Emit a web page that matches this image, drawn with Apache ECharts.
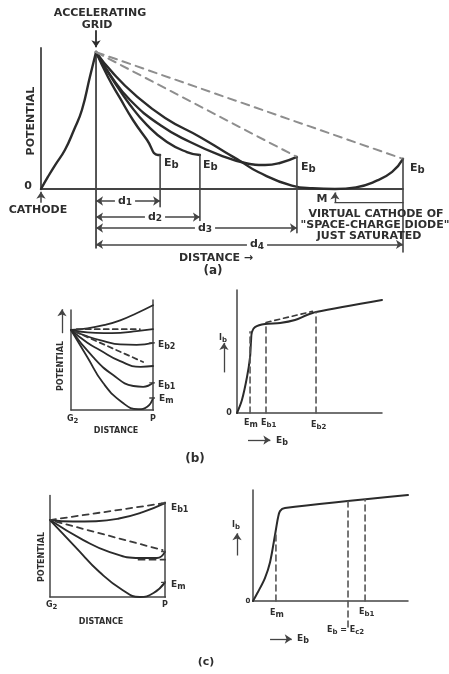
<!DOCTYPE html>
<html><head><meta charset="utf-8">
<script src="https://cdn.jsdelivr.net/npm/echarts@6/dist/echarts.min.js"></script>
<style>html,body{margin:0;padding:0;background:#fff}#c{width:449px;height:674px}</style>
</head><body><div id="c"></div>
<script>
// ---------- Panel (a): distance (cathode = 0, d4 = 10) vs potential (grid = 100)
const aGridDist = 1.52;
const aGridPot = 100;
const aCathodeRise = [[0,0],[0.19,8.8],[0.39,17.5],[0.66,28.5],[0.91,43.1],[1.13,57.7],[1.35,81.8],[1.52,100]];
const aCurveD1 = [[1.52,100],[1.85,81.8],[2.18,66.5],[2.54,50.4],[2.93,35.8],[3.23,24.8],[3.29,24.8]];
const aCurveD2 = [[1.52,100],[1.99,79.6],[2.46,61.4],[2.93,46.7],[3.48,34.3],[4.03,27.0],[4.39,24.8]];
const aCurveD3 = [[1.52,100],[1.91,83.3],[2.46,65.0],[3.29,46.7],[4.12,34.3],[4.94,24.8],[5.64,19.0],[6.19,17.5],[6.60,19.0],[7.07,23.4]];
const aCurveD4 = [[1.52,100],[1.96,85.5],[2.60,68.7],[3.43,51.9],[4.39,38.0],[5.08,27.0],[5.50,20.5],[6.0,12.4],[6.93,2.5],[7.5,0.5],[8.12,0],[8.7,1.2],[9.23,5.5],[9.7,12.5],[10,22]];
const aElectrodeDist = [3.29, 4.39, 7.07, 10];
const aElectrodeEb = [24.8, 24.8, 23.4, 22];
const aDimY = [-8.8, -20.5, -28.5, -40.5];
const aDimNames = ['1','2','3','4'];
const aVirtualCathode = 8.12;

// ---------- Panel (b) left: distance G2 (0) -> P (1), potential (Ec2 = 100)
const bTop = [[0,100],[0.2,102],[0.4,106],[0.6,112],[0.8,121],[1,131]];
const bFlat = [[0,100],[0.2,97],[0.4,96],[0.6,96.5],[0.8,98.5],[1,101]];
const bEb2 = [[0,100],[0.2,92],[0.4,86],[0.6,82],[0.8,81.5],[1,84]];
const bMid = [[0,100],[0.2,84],[0.35,75],[0.6,61],[0.85,54],[1,55]];
const bEb1 = [[0,100],[0.27,66],[0.51,44],[0.76,30],[0.88,29],[1,34]];
const bEm = [[0,100],[0.2,66],[0.39,34],[0.63,9],[0.82,1],[0.93,4],[1,15]];
const bDashed = [[[0.07,101],[0.84,101]],[[0.05,98],[0.88,60]]];
const bPlateTicks = [84, 34, 15];

// ---------- Panel (b) right: Eb vs Ib
const bIbCurve = [[0,0],[3.4,10.6],[6.9,29.3],[9,45.5],[9.7,59.3],[10.3,65.9],[12.4,69.9],[19.3,72.4],[29.7,73.2],[40,75.6],[48.3,79.7],[54.5,82.1],[100,91.9]];
const bIbDashed = [[20,73.6],[52,82.6]];
const bMarkEb = [9, 20, 54.5];
const bMarkIb = [66, 72.4, 82.1];

// ---------- Panel (c) left
const cEb1 = [[0,100],[0.2,98],[0.4,98.5],[0.6,102],[0.8,110],[1,122]];
const cMid = [[0,100],[0.29,74],[0.52,58.4],[0.78,50.6],[0.93,50.6],[1,59]];
const cEm = [[0,100],[0.23,63.6],[0.43,32.5],[0.63,9.1],[0.78,0],[0.9,5.2],[1,19]];
const cDashed = [[[0,100],[1,122]],[[0.05,98],[0.98,61]],[[0.77,48.5],[1,48.5]]];
const cPlateTicks = [122, 59, 19];

// ---------- Panel (c) right
const cIbCurve = [[0,0],[3.2,8.1],[7.7,20.7],[11,35],[14.2,59.5],[16.1,74.8],[17.4,81],[20.6,83.8],[100,95.5]];
const cMarkEb = [14.8, 61.3, 72.3];
const cMarkTop = [62, 89.8, 91.4];
const cMarkBottom = [0, -23.4, 0];

const INK='#2b2b2b', AX='#444', GREY='#8e8e8e', TXT='#2e2e2e';
const chart = echarts.init(document.getElementById('c'));

function ln(g, data, w, color, dash, smooth){
  return {type:'line', xAxisIndex:g, yAxisIndex:g, data:data, symbol:'none', clip:false, silent:true,
    smooth: smooth||false,
    lineStyle:{width:w, color:color, type: dash||'solid', cap:'round', join:'round'}, z:3, animation:false};
}
function arr(g, from, to, w, color, syms, dash){
  return {type:'line', xAxisIndex:g, yAxisIndex:g, data:[], symbol:'none', silent:true, animation:false,
    markLine:{silent:true, animation:false, symbol:syms, symbolSize:7, label:{show:false},
      emphasis:{disabled:true},
      lineStyle:{width:w, color:color, type:dash||'solid'}, data:[[{coord:from},{coord:to}]]}};
}

const series = [];
// Panel a
series.push(ln(0, [[0,0],[0,103]], 1.8, AX));
series.push(ln(0, [[0,0],[10,0]], 1.8, AX));
series.push(ln(0, [[aGridDist,aGridPot],[aGridDist,-43]], 1.8, AX));
series.push(ln(0, aCathodeRise, 2.4, INK, null, 0.5));
[aCurveD1, aCurveD2, aCurveD3, aCurveD4].forEach(c => series.push(ln(0, c, 2.4, INK, null, 0.5)));
series.push(ln(0, [[aGridDist,aGridPot],[aElectrodeDist[2],aElectrodeEb[2]]], 2, GREY, [8,6]));
series.push(ln(0, [[aGridDist,aGridPot],[aElectrodeDist[3],aElectrodeEb[3]]], 2, GREY, [8,6]));
const aTickBottom = [-13, -23, -32, -46];
aElectrodeDist.forEach((d,i) => series.push(ln(0, [[d,aElectrodeEb[i]],[d,aTickBottom[i]]], 1.6, AX)));
aElectrodeDist.forEach((d,i) => series.push(arr(0, [aGridDist,aDimY[i]], [d,aDimY[i]], 1.5, AX, ['arrow','arrow'])));
series.push(arr(0, [aGridDist,116], [aGridDist,103.5], 1.8, INK, ['none','arrow']));
series.push(arr(0, [0,-10], [0,-2], 1.5, AX, ['none','arrow']));
series.push(arr(0, [aVirtualCathode,-10], [aVirtualCathode,-2.5], 1.4, AX, ['none','arrow']));
series.push(ln(0, [[aVirtualCathode,-10],[10,-10]], 1.3, AX));

// Panel b left
series.push(ln(1, [[0,0],[0,125]], 1.5, AX));
series.push(ln(1, [[0,0],[1.04,0]], 1.5, AX));
series.push(ln(1, [[1,0],[1,137.5]], 1.5, AX));
[bTop,bFlat,bEb2,bMid,bEb1,bEm].forEach(c => series.push(ln(1, c, 1.8, INK, null, 0.5)));
bDashed.forEach(d => series.push(ln(1, d, 1.8, '#3a3a3a', [5,4])));
bPlateTicks.forEach(v => series.push(ln(1, [[0.96,v],[1.07,v]], 1.3, AX)));
series.push(arr(1, [-0.11,96], [-0.11,126], 1.3, AX, ['none','arrow']));

// Panel b right
series.push(ln(2, [[0,0],[0,100]], 1.5, AX));
series.push(ln(2, [[0,0],[100,0]], 1.5, AX));
series.push(ln(2, bIbCurve, 2, INK, null, 0.3));
series.push(ln(2, bIbDashed, 1.6, '#3a3a3a', [5,4]));
bMarkEb.forEach((e,i) => series.push(ln(2, [[e,0],[e,bMarkIb[i]]], 1.6, '#555', [6,4])));
series.push(arr(2, [-9,33], [-9,57], 1.3, AX, ['none','arrow']));
series.push(arr(2, [7.6,-22], [23,-22], 1.3, AX, ['none','arrow']));

// Panel c left
series.push(ln(3, [[0,0],[0,132]], 1.5, AX));
series.push(ln(3, [[0,0],[1.03,0]], 1.5, AX));
series.push(ln(3, [[1,0],[1,123]], 1.5, AX));
[cEb1,cMid,cEm].forEach(c => series.push(ln(3, c, 1.9, INK, null, 0.5)));
cDashed.forEach(d => series.push(ln(3, d, 1.8, '#3a3a3a', [6,5])));
cPlateTicks.forEach(v => series.push(ln(3, [[0.97,v],[1.06,v]], 1.3, AX)));
series.push(arr(3, [-0.065,112], [-0.065,134], 1.3, AX, ['none','arrow']));

// Panel c right
series.push(ln(4, [[0,0],[0,100]], 1.5, AX));
series.push(ln(4, [[0,0],[100,0]], 1.5, AX));
series.push(ln(4, cIbCurve, 2, INK, null, 0.3));
cMarkEb.forEach((e,i) => series.push(ln(4, [[e,cMarkBottom[i]],[e,cMarkTop[i]]], 1.6, '#555', [6,4])));
series.push(arr(4, [-10.3,41], [-10.3,61], 1.3, AX, ['none','arrow']));
series.push(arr(4, [11,-34.2], [25,-34.2], 1.3, AX, ['none','arrow']));

// grid boxes chosen so that each panel's axis ranges land on the reference positions
const grids = [
  {left:41, top:24.7, width:362, height:230},
  {left:58.7, top:298, width:94.3, height:112},
  {left:219.6, top:290, width:162.4, height:153.75},
  {left:38.5, top:495.4, width:126.5, height:101.6},
  {left:234.4, top:490, width:173.6, height:151}
];
const xr = [[0,10],[-0.15,1],[-12,100],[-0.1,1],[-12,100]];
const yr = [[-48,120],[0,140],[-25,100],[0,132],[-36,100]];

const F = 'bold 11px "DejaVu Sans"';
const FS = 'bold 8px "DejaVu Sans"';
function T(text, x, y, font, extra){
  return Object.assign({type:'text', x:x, y:y, z:100, silent:true,
    style:{text:text, font:font||F, fill:TXT, align:'center', verticalAlign:'middle'}}, extra||{});
}
function sub(main, s, x, y, big, small, align){
  return {type:'text', x:x, y:y, z:100, silent:true, style:{
    text:'{m|'+main+'}{s|'+s+'}', align:align||'left', verticalAlign:'middle', fill:TXT,
    rich:{m:{font:'bold '+big+'px "DejaVu Sans"', fill:TXT}, s:{font:'bold '+small+'px "DejaVu Sans"', fill:TXT, padding:[Math.round(big*0.45),0,0,0]}}}};
}
function rot(text, x, y, font){
  return {type:'text', x:x, y:y, rotation:Math.PI/2, z:100, silent:true,
    style:{text:text, font:font, fill:TXT, align:'center', verticalAlign:'middle'}};
}
const graphics = [
  T('ACCELERATING', 100, 13),
  T('GRID', 97, 25),
  rot('POTENTIAL', 31, 121, 'bold 11px "DejaVu Sans"'),
  T('0', 28, 186),
  T('CATHODE', 38, 210),
  sub('E','b',164,163,11,10), sub('E','b',203,165,11,10), sub('E','b',301,167,11,10), sub('E','b',410,168,11,10),
  T('M', 322, 199),
  T('VIRTUAL CATHODE OF', 376, 214),
  T('"SPACE-CHARGE DIODE"', 375, 225),
  T('JUST SATURATED', 369, 236),
  T('DISTANCE →', 216, 258),
  T('(a)', 213, 271, 'bold 12px "DejaVu Sans"'),
  // panel b left
  rot('POTENTIAL', 61, 366, FS),
  sub('G','2',67,419,8,7), T('P',153,419,FS),
  T('DISTANCE', 116, 431, FS),
  sub('E','b2',158,345,9,8), sub('E','b1',158,385,9,8), sub('E','m',159,399,9,8),
  T('(b)', 195, 459, 'bold 12px "DejaVu Sans"'),
  // panel b right
  sub('I','b',219,338,8,7), T('0',229,413,FS),
  sub('E','m',244,423,8,8), sub('E','b1',261,423,8,7), sub('E','b2',311,425,8,7),
  sub('E','b',276,441,9,8),
  // panel c left
  rot('POTENTIAL', 42, 557, FS),
  sub('G','2',46,605,8,7), T('P',165,605,FS),
  T('DISTANCE', 101, 622, FS),
  sub('E','b1',171,508,9,8), sub('E','m',171,585,9,8),
  T('(c)', 206, 662, 'bold 11px "DejaVu Sans"'),
  // panel c right
  sub('I','b',232,525,8,7), T('0',248,601,'bold 7px "DejaVu Sans"'),
  sub('E','m',270,613,8,8), sub('E','b1',359,612,8,7),
  {type:'text', x:327, y:630, z:100, silent:true, style:{text:'{m|E}{s|b}{m| = E}{s|c2}', align:'left', verticalAlign:'middle', fill:TXT,
    rich:{m:{font:'bold 8px "DejaVu Sans"', fill:TXT}, s:{font:'bold 7px "DejaVu Sans"', fill:TXT, padding:[4,0,0,0]}}}},
  sub('E','b',297,639,9,8)
];
// d-labels on dimension arrows
const dX = [125, 155, 205, 257];
aDimNames.forEach((n,i) => {
  const y = 189 - aDimY[i]*1.369;
  graphics.push({type:'text', x:dX[i], y:y, z:100, silent:true, style:{
    text:'{m|d}{s|'+n+'}', align:'center', verticalAlign:'middle', backgroundColor:'#fff', padding:[0,3],
    rich:{m:{font:'bold 11px "DejaVu Sans"', fill:TXT}, s:{font:'bold 9px "DejaVu Sans"', fill:TXT, padding:[4,0,0,0]}}}});
});

chart.setOption({
  animation:false,
  backgroundColor:'#fff',
  grid: grids.map(g => Object.assign({containLabel:false}, g)),
  xAxis: xr.map((r,i) => ({type:'value', gridIndex:i, min:r[0], max:r[1], show:false})),
  yAxis: yr.map((r,i) => ({type:'value', gridIndex:i, min:r[0], max:r[1], show:false})),
  series: series,
  graphic: graphics
});
</script></body></html>
